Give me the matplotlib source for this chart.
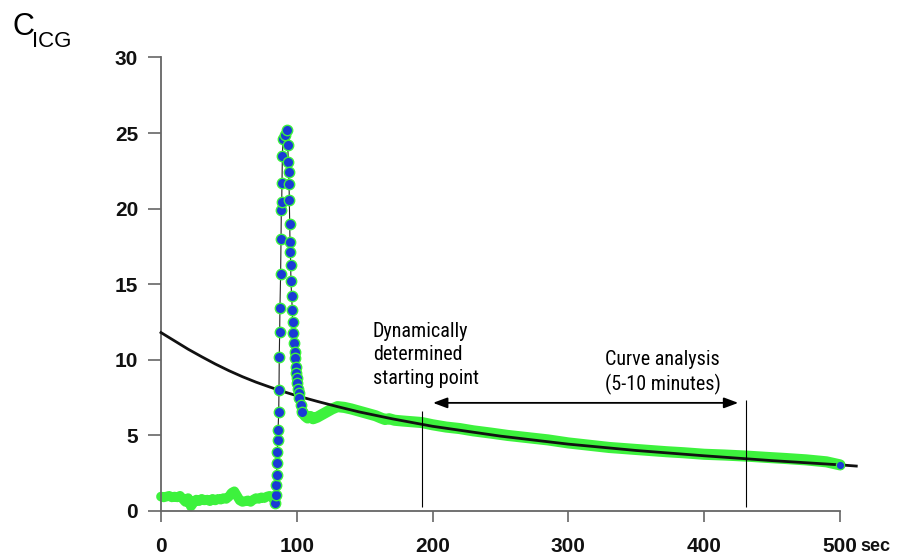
import matplotlib
matplotlib.use('Agg')
import matplotlib.pyplot as plt
from matplotlib.patches import FancyArrowPatch

plt.rcParams['font.family'] = ['Liberation Sans', 'DejaVu Sans']

# baseline before the injection (sec, C_ICG)
base_t = [0, 2, 4, 6, 8, 10, 12, 14, 16, 18, 20, 22, 24, 26, 28, 30, 32, 34, 36, 38,
          40, 42, 44, 46, 48, 50, 52, 54, 56, 58, 60, 62, 64, 66, 68, 70, 72, 74, 76,
          78, 80, 82, 83.5]
base_c = [0.95, 0.9, 0.95, 1.0, 0.9, 0.95, 0.9, 1.0, 0.8, 0.6, 0.85, 0.3, 0.55, 0.75,
          0.65, 0.8, 0.7, 0.75, 0.65, 0.8, 0.7, 0.8, 0.75, 0.85, 0.8, 0.95, 1.2, 1.3,
          1.0, 0.7, 0.6, 0.65, 0.7, 0.6, 0.75, 0.85, 0.8, 0.9, 0.85, 0.95, 1.0, 0.9, 0.7]

# first pass of the dye bolus
peak_t = [83.9, 84.4, 84.7, 85.2, 85.4, 85.7, 85.9, 86.2, 86.7, 86.9, 87.1, 87.4, 87.6,
          88.1, 88.4, 88.6, 88.9, 89.1, 89.4, 89.9, 91.2, 92.5, 93.3, 93.8, 94.0, 94.3,
          94.5, 94.8, 95.0, 95.3, 95.5, 95.7, 96.2, 96.7, 96.9, 97.4, 97.9, 98.4, 98.7,
          99.2, 99.7, 100.1, 100.4, 100.9, 101.4, 101.9, 102.9, 103.8]
peak_c = [0.5, 1.05, 1.7, 2.4, 3.2, 3.9, 4.7, 5.35, 6.57, 8.0, 10.2, 11.86, 13.4,
          15.7, 18.0, 19.9, 20.46, 21.7, 23.5, 24.6, 24.9, 25.2, 24.2, 23.1, 22.4, 21.6,
          20.6, 19.0, 17.8, 17.15, 16.3, 15.2, 14.2, 13.3, 12.5, 11.75, 11.1, 10.5, 10.1,
          9.5, 9.1, 8.8, 8.45, 8.1, 7.8, 7.45, 7.0, 6.57]

# elimination phase
tail_t = [104, 106, 108, 110, 112, 115, 118, 122, 126, 130, 135, 140, 146, 152, 158,
          162, 165, 168, 172, 178, 185, 192, 200, 210, 220, 230, 243, 255, 270, 285,
          300, 315, 330, 345, 360, 372, 385, 400, 415, 431, 445, 460, 475, 490, 500]
tail_c = [6.6, 6.3, 6.15, 6.25, 6.1, 6.2, 6.35, 6.55, 6.75, 6.9, 6.85, 6.75, 6.6, 6.45,
          6.3, 6.15, 6.05, 6.1, 6.0, 5.95, 5.9, 5.85, 5.7, 5.55, 5.45, 5.3, 5.15, 5.0,
          4.85, 4.7, 4.5, 4.35, 4.2, 4.1, 4.0, 3.92, 3.85, 3.75, 3.7, 3.63, 3.55, 3.47,
          3.38, 3.25, 3.05]

# fitted elimination curve, back-extrapolated to t=0
fit_t = [0, 10, 20, 30, 40, 50, 60, 70, 80, 90, 100, 115, 130, 146, 170, 200, 250,
         300, 350, 400, 450, 500, 512]
fit_c = [11.8, 11.25, 10.7, 10.2, 9.72, 9.28, 8.88, 8.52, 8.2, 7.9, 7.62, 7.25, 6.9,
         6.55, 6.1, 5.6, 4.95, 4.42, 4.0, 3.65, 3.33, 3.05, 2.97]

x_ticks = [0, 100, 200, 300, 400, 500]
y_ticks = [0, 5, 10, 15, 20, 25, 30]

start_t = 192   # dynamically determined starting point
end_t = 431     # end of analysis window

green = '#3df23d'
blue = '#1a3ad6'
axis_grey = '#666666'

fig = plt.figure(figsize=(9.01, 5.55), dpi=100)
ax = fig.add_axes([0.1636, 0.0521, 0.8139, 0.8717])
ax.set_xlim(-10, 530)
ax.set_ylim(-1, 31)

# measured curve
ax.plot(base_t, base_c, color=green, lw=7, solid_capstyle='round', solid_joinstyle='round', zorder=2)
ax.plot(tail_t, tail_c, color=green, lw=8, solid_capstyle='round', solid_joinstyle='round', zorder=2)
ax.plot(fit_t, fit_c, color='#111111', lw=2.0, zorder=3)
ax.plot(peak_t, peak_c, color='#222222', lw=0.8, zorder=4)
ax.plot(peak_t, peak_c, ls='none', marker='o', ms=7.5, mfc=blue, mec=green, mew=1.0, zorder=5)
ax.plot(tail_t[-1:], tail_c[-1:], ls='none', marker='o', ms=6, mfc=blue, mec=green, mew=0.8, zorder=5)

# analysis window
ax.vlines(start_t, 0.25, 6.6, color='black', lw=0.8, zorder=6)
ax.vlines(end_t, 0.25, 7.35, color='black', lw=0.8, zorder=6)
arrow = FancyArrowPatch((200.3, 7.15), (425.1, 7.15), arrowstyle='<|-|>,head_length=8.6,head_width=3.2',
                        mutation_scale=1, color='black', lw=1.3, shrinkA=0, shrinkB=0, zorder=6)
ax.add_patch(arrow)

narrow = ['Roboto Condensed', 'Liberation Sans Narrow', 'Liberation Sans', 'DejaVu Sans']
ax.text(156, 12.53, 'Dynamically\ndetermined\nstarting point', family=narrow, fontsize=14.5,
        ha='left', va='top', linespacing=1.3)
ax.text(369.3, 10.67, 'Curve analysis\n(5-10 minutes)', family=narrow, fontsize=14.5,
        ha='center', va='top', linespacing=1.3, multialignment='center')

# Excel style axes
for side in ['top', 'right']:
    ax.spines[side].set_visible(False)
ax.spines['left'].set_position(('data', 0))
ax.spines['bottom'].set_position(('data', 0))
ax.spines['left'].set_bounds(0, 30)
ax.spines['bottom'].set_bounds(0, 500)
for side in ['left', 'bottom']:
    ax.spines[side].set_color(axis_grey)
    ax.spines[side].set_linewidth(1.3)

ax.set_xticks(x_ticks)
ax.set_xticklabels([str(v) for v in x_ticks])
ax.set_yticks(y_ticks)
ax.set_yticklabels([str(v) for v in y_ticks])
ax.tick_params(axis='x', direction='out', length=8, width=1.2, color=axis_grey, pad=11,
               labelsize=15, labelcolor='#111111')
ax.tick_params(axis='y', direction='out', length=9.4, width=1.2, color=axis_grey, pad=7,
               labelsize=15, labelcolor='#111111')
for lab in ax.get_xticklabels() + ax.get_yticklabels():
    lab.set_fontweight('bold')

fig.text(860 / 901, 1 - 551 / 555, 'sec', fontsize=13, fontweight='bold', color='#111111',
         ha='left', va='baseline')

# axis title C_ICG
fig.text(12 / 901, 1 - 35 / 555, 'C', fontsize=22, ha='left', va='baseline')
fig.text(32 / 901, 1 - 47 / 555, 'ICG', fontsize=16, ha='left', va='baseline')

fig.savefig('out.png', dpi=100)
